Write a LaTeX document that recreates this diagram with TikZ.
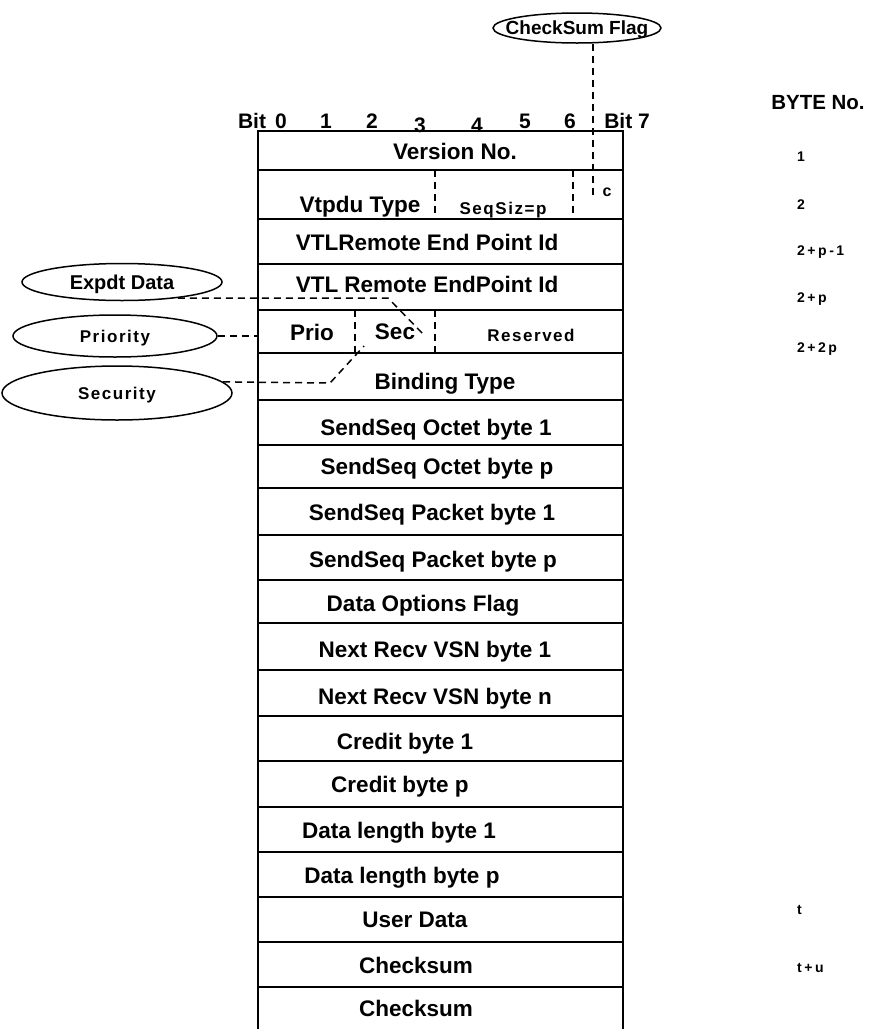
\documentclass[tikz,border=0pt]{standalone}
\usepackage{fontspec}
\setmainfont{Liberation Sans}
\newfontfamily\spacedfont[LetterSpace=9]{Liberation Sans}
\newfontfamily\widefont[LetterSpace=18]{Liberation Sans}
\usetikzlibrary{shapes.geometric}
\begin{document}
\begin{tikzpicture}[x=1pt,y=-1pt,
  rowbox/.style={draw, line width=1.6pt, minimum width=365pt, inner sep=0pt, outer sep=0pt, anchor=north},
  txt/.style={font=\bfseries\fontsize{22.5}{26}\selectfont, inner sep=0pt, text height=16pt, text depth=0pt},
  smalltxt/.style={font=\spacedfont\bfseries\fontsize{17}{19}\selectfont, inner sep=0pt, text height=12pt, text depth=0pt},
  bittxt/.style={font=\bfseries\fontsize{21}{24}\selectfont, inner sep=0pt, text height=15pt, text depth=0pt},
  numtxt/.style={font=\widefont\bfseries\fontsize{14}{16}\selectfont, inner sep=0pt, text height=10pt, text depth=0pt, anchor=west},
  bubble/.style={draw, ellipse, line width=1.5pt, inner sep=0pt},
  dashline/.style={line width=1.5pt, dash pattern=on 7pt off 5pt},
]
\useasboundingbox (0,0) rectangle (873,1029);

% table rows
\foreach \t/\b [count=\i] in {131/170,170/219,219/264,264/310,310/353,353/400,400/445,445/488,488/535,535/580,580/623,623/670,670/716,716/761,761/807,807/852,852/897,897/942,942/987,987/1034}
  \node[rowbox, minimum height={(\b-\t)*1pt}] (r\i) at (440.5,\t) {};

% field dividers
\coordinate (xa) at (435,0);
\coordinate (xb) at (573,0);
\coordinate (xc) at (355,0);
\draw[dashline] (r2.north -| xa) -- (r2.south -| xa);
\draw[dashline] (r2.north -| xb) -- (r2.south -| xb);
\draw[dashline] (r5.north -| xc) -- (r5.south -| xc);
\draw[dashline] (r5.north -| xa) -- (r5.south -| xa);

% bubbles
\node[bubble, minimum width=168pt, minimum height=30pt, text height=13.5pt, text depth=0pt,
      font=\bfseries\fontsize{19}{22}\selectfont] (cflag) at (577,28) {\makebox[0pt]{CheckSum Flag}};
\node[bubble, minimum width=200pt, minimum height=37pt, text height=14.3pt, text depth=0pt,
      font=\bfseries\fontsize{20}{22}\selectfont] (expdt) at (122,282) {\makebox[0pt]{Expdt Data}};
\node[bubble, minimum width=204pt, minimum height=42pt, text height=12pt, text depth=0pt,
      font=\spacedfont\bfseries\fontsize{17}{19}\selectfont] (prio) at (115,336) {\makebox[0pt]{Priority}};
\node[bubble, minimum width=230pt, minimum height=54pt, text height=12pt, text depth=0pt,
      font=\spacedfont\bfseries\fontsize{17}{19}\selectfont] (secu) at (117,393) {\makebox[0pt]{Security}};

% connectors
\coordinate (cfend) at (593,195);
\draw[dashline] (cflag.south -| cfend) -- (cfend);
\coordinate (e1) at (388,298);
\coordinate (e2) at (425,336);
\draw[dashline] (expdt.-16) -- (e1) -- (e2);
\draw[dashline] (prio.east) -- (prio.east -| r5.west);
\coordinate (s1) at (330,383);
\coordinate (s2) at (364,346);
\draw[dashline] (secu.6) -- (s1) -- (s2);

% bit labels
\node[bittxt] (bitl) at (252,121) {Bit};
\node[bittxt] (b0) at (281,121) {0};
\node[bittxt] (b1) at (326,121) {1};
\node[bittxt] (b2) at (372,121) {2};
\node[bittxt] (b3) at (420,125) {3};
\node[bittxt] (b4) at (477,125) {4};
\node[bittxt] (b5) at (525,121) {5};
\node[bittxt] (b6) at (570,121) {6};
\node[bittxt] (bitr) at (627,121) {Bit 7};

% row texts
\node[txt] (t1) at (455,151) {Version No.};
\node[txt] (t2a) at (360,204) {Vtpdu Type};
\node[smalltxt] (t2b) at (503,208) {SeqSiz=p};
\node[font=\bfseries\fontsize{16}{18}\selectfont, inner sep=0pt, text height=9pt, text depth=0pt] (t2c) at (607,192) {c};
\node[txt] (t3) at (427,242) {VTLRemote End Point Id};
\node[txt] (t4) at (427,284) {VTL Remote EndPoint Id};
\node[txt] (t5a) at (312,332) {Prio};
\node[txt] (t5b) at (395,331) {Sec};
\node[smalltxt] (t5c) at (531,335) {Reserved};
\node[txt] (t6) at (445,381) {Binding Type};
\node[txt] (t7) at (436,427) {SendSeq Octet byte 1};
\node[txt] (t8) at (437,466) {SendSeq Octet byte p};
\node[txt] (t9) at (432,512) {SendSeq Packet byte 1};
\node[txt] (t10) at (433,559) {SendSeq Packet byte p};
\node[txt] (t11) at (423,603) {Data Options Flag};
\node[txt] (t12) at (435,649) {Next Recv VSN byte 1};
\node[txt] (t13) at (435,696) {Next Recv VSN byte n};
\node[txt] (t14) at (405,741) {Credit byte 1};
\node[txt] (t15) at (400,784) {Credit byte p};
\node[txt] (t16) at (399,830) {Data length byte 1};
\node[txt] (t17) at (402,875) {Data length byte p};
\node[txt] (t18) at (415,919) {User Data};
\node[txt] (t19) at (416,965) {Checksum};
\node[txt] (t20) at (416,1008) {Checksum};

% byte numbers
\node[font=\bfseries\fontsize{20.5}{23}\selectfont, inner sep=0pt, text height=14.5pt, text depth=0pt] (byteno) at (818,102) {BYTE No.};
\node[numtxt] (n1) at (797,156) {1};
\node[numtxt] (n2) at (797,204) {2};
\node[numtxt] (n3) at (797,250) {2+p-1};
\node[numtxt] (n4) at (797,297) {2+p};
\node[numtxt] (n5) at (797,347) {2+2p};
\node[numtxt] (n6) at (797,909) {t};
\node[numtxt] (n7) at (797,967) {t+u};
\end{tikzpicture}
\end{document}
